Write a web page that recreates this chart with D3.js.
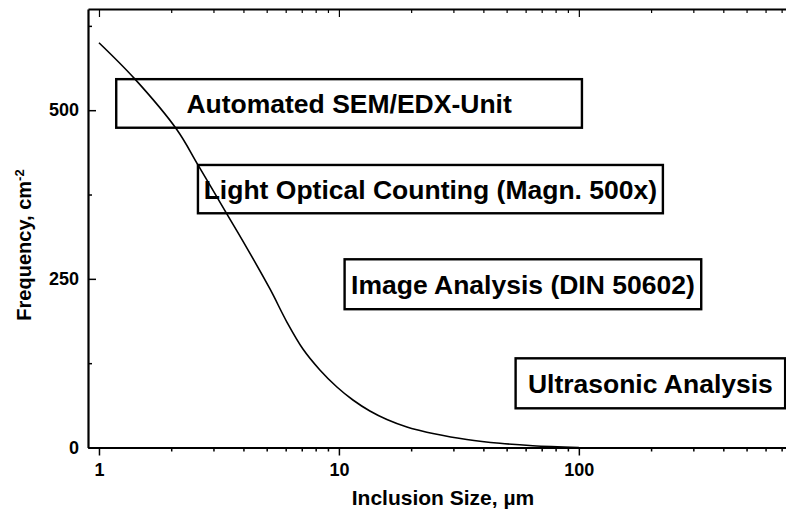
<!DOCTYPE html>
<html>
<head>
<meta charset="utf-8">
<script src="https://cdn.jsdelivr.net/npm/d3@7"></script>
<style>
  html, body { margin: 0; padding: 0; background: #fff; }
  svg { display: block; }
  text { font-family: "Liberation Sans", Arial, Helvetica, sans-serif; font-weight: bold; fill: #000; }
</style>
</head>
<body>
<svg id="chart" width="786" height="518"></svg>
<script>
// ---- data ----
const sizes = [1, 1.413, 2.113, 2.585, 3.415, 3.98, 5.16, 6.07, 7.08, 8.33, 9.81, 11.44, 13.46, 15.85, 19.2, 21.76, 24.65, 34.1, 46.9, 64.3, 100];
const freq  = [600, 546, 471, 419, 346, 306, 235, 186, 146, 115, 89.7, 70.4, 54.1, 41.5, 30.4, 25.2, 20.8, 11.9, 6.2, 2.7, 0];

const xMajorTicks = [1, 10, 100];
const xMinorTicks = [2,3,4,5,6,7,8,9,20,30,40,50,60,70,80,90,200,300,400,500,600,700];
const yMajorTicks = [0, 250, 500];
const yMinorTicks = [125, 375, 625];

const methodLabels = ["Automated SEM/EDX-Unit", "Light Optical Counting (Magn. 500x)", "Image Analysis (DIN 50602)", "Ultrasonic Analysis"];
// size range (µm) and frequency range of each method box
const methodSizeFrom = [1.18, 2.585, 10.56, 54.5];
const methodSizeTo   = [103, 224, 323.6, 724];
const methodFreqTop  = [546, 418.8, 279, 132.2];
const methodFreqBot  = [474, 347.2, 205, 58.1];

const xTitle = "Inclusion Size, µm";
const yTitle = "Frequency, cm";
const yTitleSup = "-2";

// ---- layout ----
const svg = d3.select("#chart");
const mLeft = 88, mRight = 786, mTop = 9, mBottom = 447.5;

const x = d3.scaleLog().domain([0.9, 730]).range([mLeft, mRight]);
const y = d3.scaleLinear().domain([0, 650]).range([mBottom, mTop]);

const isMajorX = d => xMajorTicks.includes(d);
const allX = xMajorTicks.concat(xMinorTicks).sort((a,b)=>a-b);
const allY = yMajorTicks.concat(yMinorTicks).sort((a,b)=>a-b);

// bottom axis
const gx = svg.append("g").attr("transform", `translate(0,${mBottom})`)
  .call(d3.axisBottom(x).tickValues(allX).tickSize(8).tickSizeOuter(0).tickPadding(8)
    .tickFormat(d => isMajorX(d) ? d3.format("d")(d) : ""));
gx.selectAll(".tick line").attr("y2", d => isMajorX(d) ? 8 : 4).attr("stroke-width", 1.5);
gx.selectAll(".tick text").style("font-size", "18px");

// top axis (ticks inward)
const gt = svg.append("g").attr("transform", `translate(0,${mTop})`)
  .call(d3.axisTop(x).tickValues(allX).tickSize(-8).tickSizeOuter(0).tickFormat(""));
gt.selectAll(".tick line").attr("y2", d => isMajorX(d) ? 8 : 4).attr("stroke-width", 1.2);

// left axis (ticks inward)
const gy = svg.append("g").attr("transform", `translate(${mLeft},0)`)
  .call(d3.axisLeft(y).tickValues(allY).tickSize(-8).tickSizeOuter(0).tickPadding(9)
    .tickFormat(d => yMajorTicks.includes(d) ? d3.format("d")(d) : ""));
gy.selectAll(".tick line").attr("x2", d => yMajorTicks.includes(d) ? 8 : 4).attr("stroke-width", 1.5);
gy.selectAll(".tick text").style("font-size", "18px");

svg.selectAll(".domain").attr("stroke", "#000").attr("stroke-width", 2.2);
svg.selectAll(".tick line").attr("stroke", "#000");

// curve
const pts = sizes.map((s, i) => [s, freq[i]]);
svg.append("path")
  .datum(pts)
  .attr("fill", "none")
  .attr("stroke", "#000")
  .attr("stroke-width", 1.6)
  .attr("d", d3.line().x(d => x(d[0])).y(d => y(d[1])).curve(d3.curveCatmullRom.alpha(0.5)));

// method boxes
const boxFont = 26.5;
methodLabels.forEach((lab, i) => {
  const x0 = x(methodSizeFrom[i]), x1 = x(methodSizeTo[i]);
  const y0 = y(methodFreqTop[i]), y1 = y(methodFreqBot[i]);
  svg.append("rect")
    .attr("x", x0).attr("y", y0)
    .attr("width", x1 - x0).attr("height", y1 - y0)
    .attr("fill", "none").attr("stroke", "#000").attr("stroke-width", 2.4);
  svg.append("text")
    .attr("x", (x0 + x1) / 2)
    .attr("y", (y0 + y1) / 2 + boxFont * 0.36)
    .attr("text-anchor", "middle")
    .style("font-size", boxFont + "px")
    .text(lab);
});

// axis titles
svg.append("text")
  .attr("x", 443).attr("y", 505)
  .attr("text-anchor", "middle")
  .style("font-size", "21px")
  .text(xTitle);

const yt = svg.append("text")
  .attr("transform", "translate(31,245) rotate(-90)")
  .attr("text-anchor", "middle")
  .style("font-size", "20px");
yt.append("tspan").text(yTitle);
yt.append("tspan").attr("dy", "-0.55em").style("font-size", "13px").text(yTitleSup);
</script>
</body>
</html>
